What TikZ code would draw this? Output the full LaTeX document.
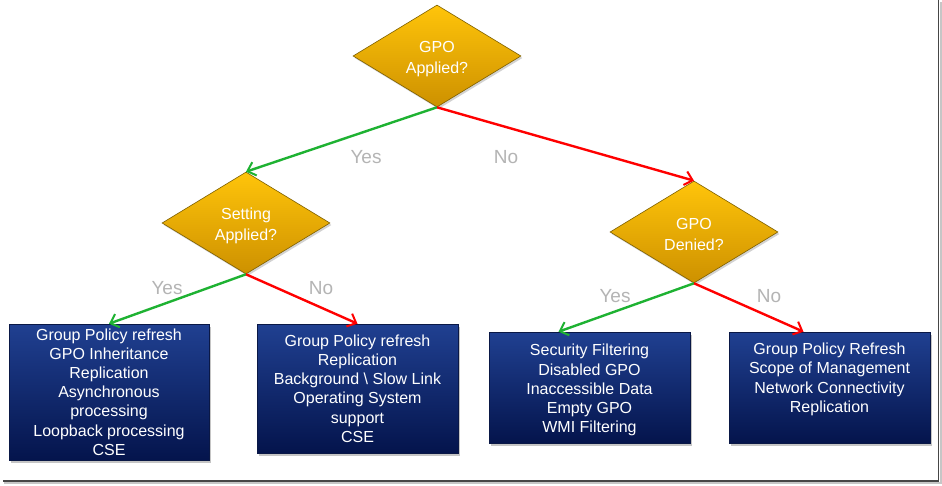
\documentclass[tikz,border=0pt]{standalone}
\usepackage{fontspec}
\setmainfont{Liberation Sans}
\usetikzlibrary{shapes.geometric,arrows.meta,shadows}
\definecolor{goldtop}{RGB}{255,196,10}
\definecolor{goldbot}{RGB}{205,145,0}
\definecolor{goldedge}{RGB}{125,95,0}
\definecolor{boxtop}{RGB}{32,64,145}
\definecolor{boxbot}{RGB}{4,20,76}
\definecolor{boxedge}{RGB}{10,24,70}
\definecolor{arrgreen}{RGB}{30,178,50}
\definecolor{arrred}{RGB}{255,0,0}
\definecolor{lblgray}{RGB}{180,180,180}
\definecolor{framegray}{RGB}{70,70,70}
\begin{document}
\begin{tikzpicture}[x=1pt,y=-1pt,
  decision/.style={diamond, aspect=1.647, minimum width=168pt, minimum height=102pt,
    inner sep=0pt, top color=goldtop, bottom color=goldbot, draw=goldedge, line width=0.6pt,
    text=white, align=center, font=\fontsize{16}{21}\selectfont,
    drop shadow={shadow xshift=1.5pt, shadow yshift=-2pt, opacity=0.35}},
  infobox/.style={rectangle, inner sep=0pt, top color=boxtop, bottom color=boxbot,
    draw=boxedge, line width=0.6pt, text=white, align=center,
    font=\fontsize{16}{19.2}\selectfont,
    drop shadow={shadow xshift=2pt, shadow yshift=-3pt, opacity=0.45}},
  yesno/.style={text=lblgray, font=\fontsize{19}{22}\selectfont, inner sep=0pt},
  flowyes/.style={draw=arrgreen, line width=2.4pt, -{Straight Barb[length=7.5pt,width=14pt,line width=2pt]}},
  flowno/.style={draw=arrred, line width=2.4pt, -{Straight Barb[length=7.5pt,width=14pt,line width=2pt]}}
]
\useasboundingbox (0,0) rectangle (942,485);
\fill[white] (0,0) rectangle (942,485);

% frame (right and bottom edges)
\draw[gray!45, line width=2pt] (4,483) -- (940.5,483) -- (940.5,2);
\draw[framegray, line width=1.3pt] (3,481) -- (938.5,481) -- (938.5,0);

% decisions
\node[decision] (gpoapplied) at (437,56) {\rule{0pt}{17pt}GPO\\Applied?};
\node[decision] (settingapplied) at (246,223) {\rule{0pt}{17pt}Setting\\Applied?};
\node[decision] (gpodenied) at (694,232) {\rule{0pt}{17pt}GPO\\Denied?};

% result boxes
\node[infobox, minimum width=200pt, minimum height=136pt] (b1) at (109,392)
  {Group Policy refresh\\GPO Inheritance\\Replication\\Asynchronous\\processing\\Loopback processing\\CSE};
\node[infobox, minimum width=201pt, minimum height=129pt] (b2) at (357.5,388.5)
  {Group Policy refresh\\Replication\\Background \textbackslash\ Slow Link\\Operating System\\support\\CSE};
\node[infobox, minimum width=201pt, minimum height=111pt] (b3) at (589.5,387.5)
  {\rule{0pt}{17pt}Security Filtering\\Disabled GPO\\Inaccessible Data\\Empty GPO\\WMI Filtering};
\node[infobox, minimum width=201pt, minimum height=111pt] (b4) at (829.5,387.5)
  {\rule{0pt}{17pt}Group Policy Refresh\\Scope of Management\\Network Connectivity\\Replication\\\strut};

% connectors
\draw[flowyes] (gpoapplied.south) -- (settingapplied.north);
\draw[flowno] (gpoapplied.south) -- (gpodenied.north);
\draw[flowyes] (settingapplied.south) -- (b1.north);
\draw[flowno] (settingapplied.south) -- (b2.north);
\draw[flowyes] (gpodenied.south) -- ([xshift=-31pt]b3.north);
\draw[flowno] (gpodenied.south) -- ([xshift=-26pt]b4.north);

% labels
\node[yesno] (l1) at (366,157) {Yes};
\node[yesno] (l2) at (506,157) {No};
\node[yesno] (l3) at (167,288) {Yes};
\node[yesno] (l4) at (321,288) {No};
\node[yesno] (l5) at (615,296) {Yes};
\node[yesno] (l6) at (769,296) {No};
\end{tikzpicture}
\end{document}
